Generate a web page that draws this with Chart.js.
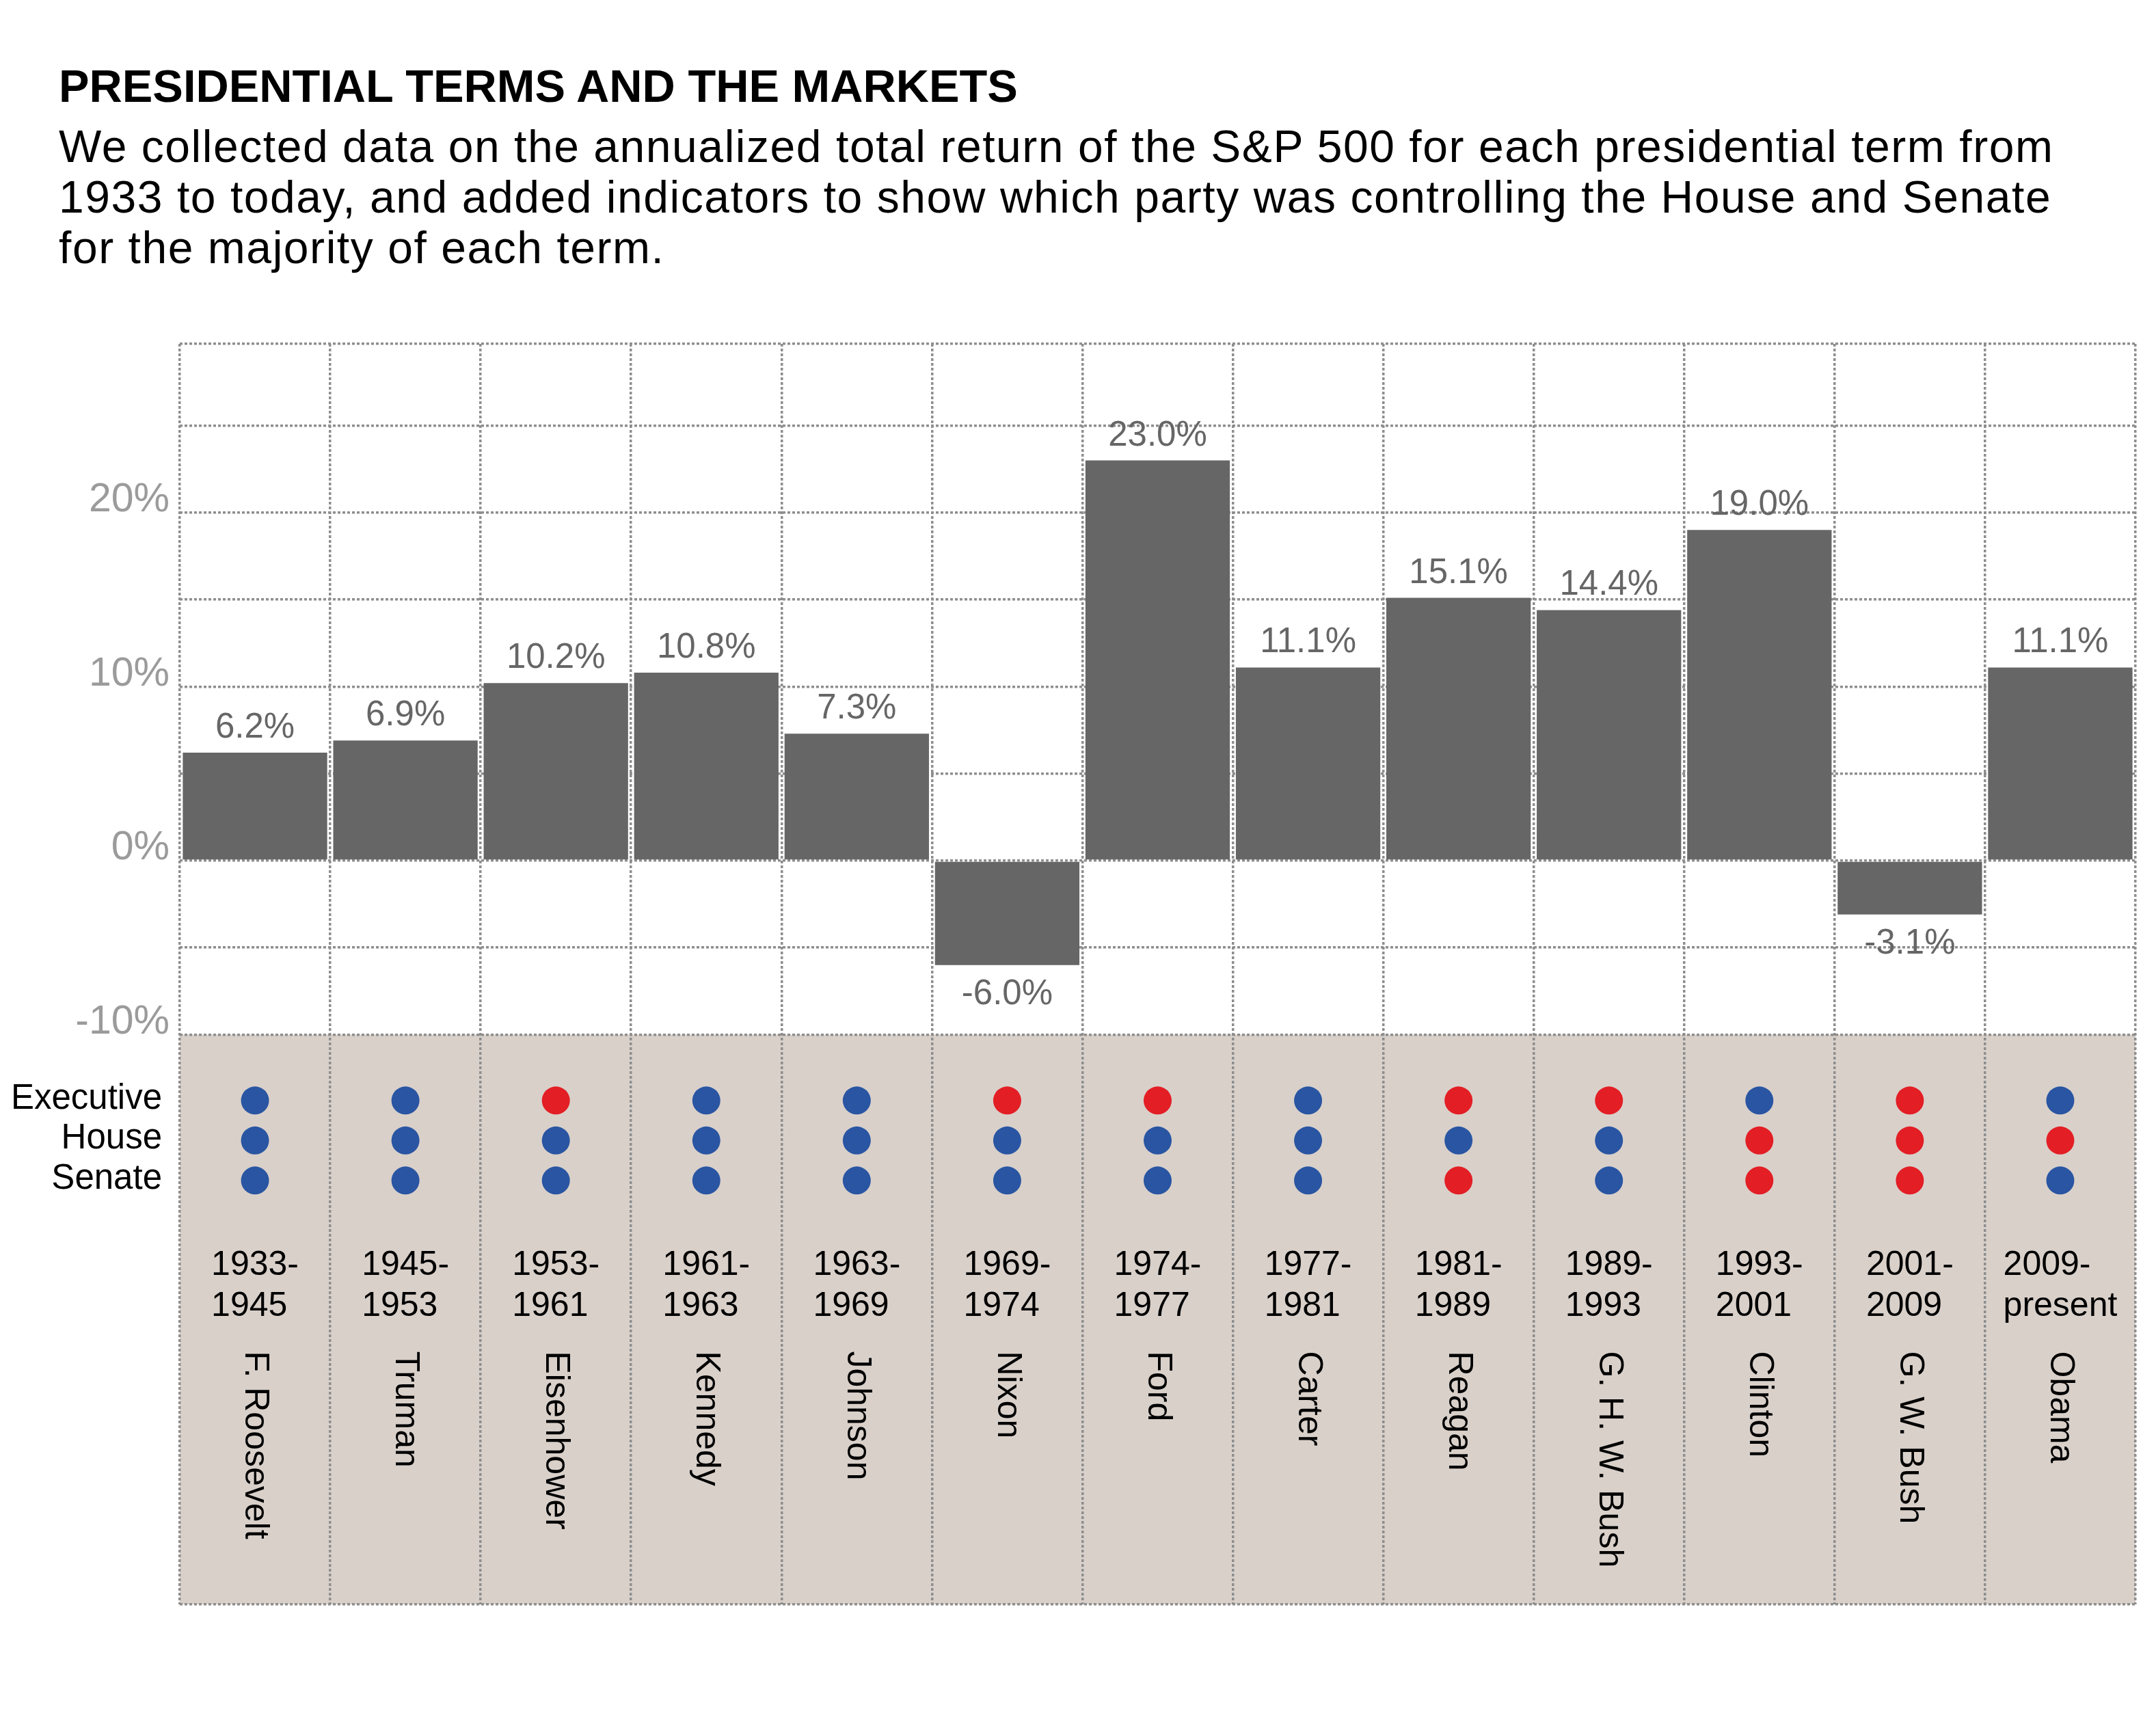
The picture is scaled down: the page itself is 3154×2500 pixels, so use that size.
<!DOCTYPE html>
<html><head><meta charset="utf-8">
<script src="https://cdn.jsdelivr.net/npm/chart.js@4.4.0/dist/chart.umd.min.js"></script>
<style>
html,body{margin:0;padding:0;background:#fff;}
#wrap{position:relative;width:3154px;height:2500px;overflow:hidden;background:#fff;}
#title{position:absolute;left:86px;top:93px;font:bold 66.8px/66px "Liberation Sans",Arial,sans-serif;color:#000;white-space:nowrap;margin:0}
#sub{position:absolute;left:86px;top:177px;font:66px/74px "Liberation Sans",Arial,sans-serif;letter-spacing:1.55px;color:#000;white-space:nowrap;margin:0}
canvas{position:absolute;left:0;top:0;}
</style></head><body>
<div id="wrap">
<canvas id="c" width="3154" height="2500"></canvas>
<h1 id="title">PRESIDENTIAL TERMS AND THE MARKETS</h1>
<p id="sub">We collected data on the annualized total return of the S&amp;P 500 for each presidential term from<br>1933 to today, and added indicators to show which party was controlling the House and Senate<br>for the majority of each term.</p>
</div>
<script>
// ---- data ----
const PRESIDENTS = ['F. Roosevelt','Truman','Eisenhower','Kennedy','Johnson','Nixon','Ford','Carter','Reagan','G. H. W. Bush','Clinton','G. W. Bush','Obama'];
const TERM_START = ['1933-','1945-','1953-','1961-','1963-','1969-','1974-','1977-','1981-','1989-','1993-','2001-','2009-'];
const TERM_END   = ['1945','1953','1961','1963','1969','1974','1977','1981','1989','1993','2001','2009','present'];
const RETURNS = [6.2, 6.9, 10.2, 10.8, 7.3, -6.0, 23.0, 11.1, 15.1, 14.4, 19.0, -3.1, 11.1];
const EXECUTIVE = ['D','D','R','D','D','R','R','D','R','R','D','R','D'];
const HOUSE     = ['D','D','D','D','D','D','D','D','D','D','R','R','R'];
const SENATE    = ['D','D','D','D','D','D','D','D','R','D','R','R','D'];
const ROW_LABELS = ['Executive','House','Senate'];
const Y_GRID = [-10,-5,0,5,10,15,20,25];
const Y_LABELED = [-10,0,10,20];

// ---- styles ----
const PARTY_COLOR = {D:'#2955a2', R:'#e31e25'};
const BAR_COLOR = '#666666';
const GRID_COLOR = '#8e8e8e';
const PANEL_COLOR = '#d9d0ca';
const FONT = '"Liberation Sans", Arial, sans-serif';
const Y_MIN = -42.75, Y_MAX = 29.7;

const panelPlugin = {
  id:'panel',
  beforeDraw(chart){
    const {ctx, chartArea:a, scales:{y}} = chart;
    const top = y.getPixelForValue(-10);
    ctx.save(); ctx.fillStyle = PANEL_COLOR;
    ctx.fillRect(a.left, top, a.right - a.left, a.bottom - top);
    ctx.restore();
  }
};

const textPlugin = {
  id:'texts',
  afterDraw(chart){
    const {ctx, chartArea:a, scales:{x, y, rows}} = chart;
    ctx.save();
    // value labels
    const meta = chart.getDatasetMeta(0);
    ctx.fillStyle = '#666666';
    ctx.font = '51px ' + FONT;
    ctx.textAlign = 'center';
    meta.data.forEach((bar, i) => {
      const v = RETURNS[i];
      const t = v.toFixed(1) + '%';
      if (v >= 0) { ctx.textBaseline = 'alphabetic'; ctx.fillText(t, bar.x, bar.y - 22); }
      else { ctx.textBaseline = 'top'; ctx.fillText(t, bar.x, bar.y + 18); }
    });
    // row labels
    ctx.fillStyle = '#000';
    ctx.font = '51px ' + FONT;
    ctx.textAlign = 'right'; ctx.textBaseline = 'alphabetic';
    ROW_LABELS.forEach((lab, r) => {
      ctx.fillText(lab, a.left - 26, rows.getPixelForValue(r + 1) + 12);
    });
    // years and names
    const panelTop = y.getPixelForValue(-10);
    ctx.font = '50px ' + FONT;
    PRESIDENTS.forEach((name, i) => {
      const cx = x.getPixelForValue(i);
      const w = Math.max(ctx.measureText(TERM_START[i]).width, ctx.measureText(TERM_END[i]).width);
      ctx.textAlign = 'left'; ctx.textBaseline = 'alphabetic';
      ctx.fillText(TERM_START[i], cx - w/2, panelTop + 352);
      ctx.fillText(TERM_END[i], cx - w/2, panelTop + 412);
      ctx.save();
      ctx.translate(cx, panelTop + 463);
      ctx.rotate(Math.PI/2);
      ctx.textBaseline = 'middle';
      ctx.fillText(name, 0, 0);
      ctx.restore();
    });
    ctx.restore();
  }
};

function dotDataset(label, parties, row){
  return {
    type:'line', label, yAxisID:'rows', showLine:false,
    data: parties.map(() => row),
    pointRadius:20.5, pointHoverRadius:20.5, pointBorderWidth:0,
    pointBackgroundColor: parties.map(p => PARTY_COLOR[p]),
    pointBorderColor: parties.map(p => PARTY_COLOR[p])
  };
}

new Chart(document.getElementById('c'), {
  type:'bar',
  data:{
    labels: PRESIDENTS,
    datasets:[
      {label:'Annualized total return', data: RETURNS, backgroundColor: BAR_COLOR,
       barPercentage:0.96, categoryPercentage:1.0, yAxisID:'y'},
      dotDataset(ROW_LABELS[0], EXECUTIVE, 1),
      dotDataset(ROW_LABELS[1], HOUSE, 2),
      dotDataset(ROW_LABELS[2], SENATE, 3)
    ]
  },
  options:{
    responsive:false, devicePixelRatio:1, animation:false, events:[],
    layout:{padding:{top:503, right:30, bottom:153, left:0}},
    plugins:{legend:{display:false}, tooltip:{enabled:false}, title:{display:false}},
    scales:{
      x:{
        grid:{offset:true, color:GRID_COLOR, lineWidth:3.5, drawTicks:false},
        border:{display:false, dash:[4,3]},
        ticks:{display:false}
      },
      y:{
        min:Y_MIN, max:Y_MAX,
        afterBuildTicks(scale){ scale.ticks = [Y_MIN, ...Y_GRID, Y_MAX].map(v => ({value:v})); },
        afterFit(scale){ scale.width = 263; },
        grid:{drawTicks:false, lineWidth:3.5, color: GRID_COLOR},
        border:{display:false, dash:[4,3]},
        ticks:{
          padding:15, labelOffset:-18, color:'#9b9b9b',
          font:{family:'"Liberation Sans", Arial, sans-serif', size:59},
          callback:(v) => Y_LABELED.includes(v) ? v + '%' : ''
        }
      },
      rows:{type:'linear', axis:'y', position:'left', display:false, reverse:true, min:-17.92, max:13.6,
            grid:{display:false}, ticks:{display:false}}
    }
  },
  plugins:[panelPlugin, textPlugin]
});
</script>
</body></html>
